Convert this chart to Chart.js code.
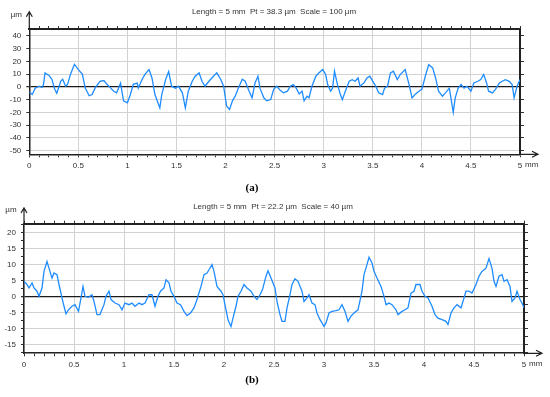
<!DOCTYPE html>
<html lang="en">
<head>
  <meta charset="UTF-8">
  <title>Profiles</title>
  <script src="https://cdn.jsdelivr.net/npm/chart.js@4"></script>
  <style>
    html, body { margin: 0; padding: 0; background: #fff; }
    #wrap { position: relative; width: 550px; height: 397px; }
    .box { position: absolute; left: 0; width: 550px; }
    #boxA { top: 0; height: 195px; }
    #boxB { top: 195px; height: 202px; }
  </style>
</head>
<body>
  <div id="wrap">
    <div class="box" id="boxA"><canvas id="chartA"></canvas></div>
    <div class="box" id="boxB"><canvas id="chartB"></canvas></div>
  </div>

  <script>
    // profile (a): position in mm, height in µm
    const xA = [0, 0.03, 0.06, 0.10, 0.13, 0.145, 0.16, 0.20, 0.23, 0.26, 0.28, 0.32, 0.34, 0.37, 0.39, 0.42, 0.46, 0.50, 0.54, 0.57,
      0.61, 0.64, 0.67, 0.72, 0.76, 0.79, 0.83, 0.86, 0.89, 0.93, 0.96, 1.00, 1.03, 1.06, 1.10, 1.11, 1.15, 1.18, 1.22, 1.25,
      1.28, 1.33, 1.35, 1.39, 1.42, 1.45, 1.49, 1.52, 1.56, 1.59, 1.62, 1.66, 1.69, 1.73, 1.76, 1.79, 1.83, 1.86, 1.91, 1.95,
      1.98, 2.01, 2.04, 2.07, 2.10, 2.13, 2.17, 2.20, 2.24, 2.27, 2.30, 2.33, 2.35, 2.39, 2.42, 2.46, 2.49, 2.52, 2.56, 2.59,
      2.63, 2.66, 2.69, 2.72, 2.75, 2.78, 2.80, 2.83, 2.85, 2.88, 2.92, 2.95, 2.99, 3.02, 3.04, 3.07, 3.09, 3.11, 3.14, 3.17,
      3.19, 3.22, 3.26, 3.29, 3.32, 3.35, 3.37, 3.41, 3.44, 3.47, 3.49, 3.53, 3.56, 3.60, 3.62, 3.65, 3.68, 3.71, 3.75, 3.78,
      3.83, 3.87, 3.90, 3.93, 3.97, 4.00, 4.04, 4.07, 4.11, 4.14, 4.17, 4.21, 4.24, 4.28, 4.32, 4.34, 4.37, 4.40, 4.43, 4.46,
      4.50, 4.53, 4.57, 4.60, 4.63, 4.66, 4.68, 4.72, 4.75, 4.79, 4.82, 4.85, 4.89, 4.92, 4.94, 4.97, 5.00]
    const yA = [-4, -6, -1, 0.5, -0.5, 2, 11, 9, 6, -2, -5, 4.4, 6, 0.5, 2, 10, 17.8, 13.6, 10, -1,
      -7, -6, -1, 4.4, 5, 2, -1, -3.4, -4.7, 3, -11, -12.5, -6, 2, 3, -1, 6, 10, 13.6, 7,
      -6, -16.5, -6, 6, 12, 0.5, -1, 0.5, -4.7, -16.5, -3.4, 4.4, 8.4, 11, 4.4, 0.5, 4.4, 7, 11, 6,
      0.5, -15, -17.7, -11, -7, -1, 6, 4.4, -3.4, -8.6, 3, 8.4, -1, -8.6, -11, -10, -2, 0.5, -2.9, -4.7,
      -3.4, 0.5, 1.8, -1, -5.5, -3.4, -11, -7.3, -8.6, 0.5, 8.4, 11, 13.6, 9.7, 1.8, -3.4, -1, 12.3, 1.8, -6,
      -10, -3.4, 4.4, 5.7, 4.4, 7, 0.5, 3.1, 7, 8.4, 5.7, 0.5, -4.7, -6, -1, 0.5, 11, 12.3, 5.7, 9.7,
      13.6, 1.8, -8.6, -6, -3.4, -2, 9.7, 17.5, 14.9, 7, -3.4, -7.3, -4.7, -1, -20, -8.6, -1, 1.8, -1, 0.5,
      -3.4, 3.1, 4.4, 5.7, 9.7, 3.1, -3.4, -4.7, -2, 3.1, 4.4, 5.7, 4.4, 1.8, -8.6, 0.5, 5.7]

    // profile (b)
    const xB = [0, 0.03, 0.05, 0.08, 0.10, 0.13, 0.15, 0.18, 0.20, 0.23, 0.25, 0.28, 0.30, 0.33, 0.35, 0.38, 0.40, 0.42, 0.445, 0.48,
      0.51, 0.545, 0.57, 0.59, 0.61, 0.645, 0.68, 0.70, 0.73, 0.76, 0.80, 0.82, 0.85, 0.87, 0.91, 0.95, 0.98, 1.01, 1.05, 1.08,
      1.11, 1.15, 1.18, 1.21, 1.25, 1.28, 1.31, 1.34, 1.365, 1.40, 1.42, 1.45, 1.47, 1.50, 1.53, 1.565, 1.60, 1.63, 1.665, 1.70,
      1.73, 1.77, 1.80, 1.83, 1.85, 1.88, 1.90, 1.93, 1.97, 1.99, 2.02, 2.04, 2.07, 2.09, 2.12, 2.14, 2.17, 2.20, 2.23, 2.27,
      2.30, 2.33, 2.36, 2.385, 2.42, 2.44, 2.47, 2.51, 2.53, 2.56, 2.58, 2.61, 2.63, 2.66, 2.68, 2.71, 2.74, 2.78, 2.80, 2.83,
      2.85, 2.88, 2.91, 2.93, 2.96, 2.98, 3.00, 3.02, 3.05, 3.08, 3.12, 3.15, 3.18, 3.21, 3.24, 3.27, 3.30, 3.34, 3.38, 3.40,
      3.43, 3.45, 3.48, 3.50, 3.53, 3.57, 3.60, 3.62, 3.65, 3.68, 3.72, 3.74, 3.78, 3.81, 3.84, 3.87, 3.90, 3.92, 3.96, 3.98,
      4.01, 4.04, 4.08, 4.11, 4.14, 4.18, 4.22, 4.24, 4.27, 4.30, 4.33, 4.37, 4.40, 4.42, 4.45, 4.48, 4.52, 4.55, 4.58, 4.62,
      4.65, 4.68, 4.70, 4.72, 4.75, 4.78, 4.80, 4.83, 4.86, 4.88, 4.91, 4.93, 4.96, 4.98, 5.00]
    const yB = [4.9, 3.9, 2.8, 4.4, 2.8, 1.8, 0.2, 2.8, 8, 11.1, 9, 5.9, 7.5, 7, 3.9, -0.3, -2.9, -5.3, -4, -2.9,
      -2.4, -4.5, -0.3, 3.3, 0.2, -0.1, 0.7, -1.4, -5.5, -5.5, -2.4, 0.2, 1.8, -0.8, -1.9, -2.4, -4, -1.9, -2.4, -1.9,
      -2.9, -1.9, -2.4, -1.9, 0.7, 0.7, -2.9, 0.2, 1.8, 2.8, 5.4, 4.4, 1.8, 0.2, -1.9, -2.4, -4.5, -5.8, -5, -3.4,
      -0.8, 3.3, 7, 7.5, 8.5, 10.1, 8, 3.3, 1.8, 0.7, -4, -7.1, -9.2, -6.6, -2.9, 0.2, 1.8, 3.9, 2.8, 1.8,
      0.2, -0.8, 0.7, 2.3, 6.5, 8.2, 5.9, 2.8, -1.4, -5.5, -7.6, -7.6, -3.4, 0.7, 3.9, 5.7, 4.9, 1.8, -1.4, -0.3,
      0.7, -1.9, -2.4, -5, -7.1, -8.1, -9.2, -8.1, -5, -4.5, -4.3, -4, -2.4, -4.5, -7.6, -6, -5, -4, 1.8, 7,
      10.1, 12.4, 10.6, 8, 5.9, 3.3, 0.2, -2.4, -1.9, -2.4, -4, -5.5, -4.5, -4, -3.4, 1.2, 1.8, 3.9, 3.9, 1.8,
      0.2, -0.3, -2.9, -5.5, -6.6, -7.1, -7.6, -8.6, -5, -3.4, -2.4, -3.4, -0.3, 1.8, 1.8, 1.2, 3.9, 6.5, 8, 9,
      12, 9, 4.9, 3.3, 6.5, 7, 4.9, 5.4, 3.3, -1.4, -0.3, 1.8, -0.8, -1.9, -3.4]

    const yTicksA = [-50, -40, -30, -20, -10, 0, 10, 20, 30, 40]
    const yTicksB = [-17.5, -15, -12.5, -10, -7.5, -5, -2.5, 0, 2.5, 5, 7.5, 10, 12.5, 15, 17.5, 20, 22.5]
    const xTicks = []
    for (let i = 0; i <= 50; i++) xTicks.push(i / 10)

    const font = { family: '"Liberation Sans", Arial, sans-serif', size: 8 }
    const ink = '#333'

    const decor = {
      id: 'decor',
      afterDraw(chart, args, o) {
        const { ctx, chartArea: a } = chart
        ctx.save()
        ctx.strokeStyle = '#222'
        ctx.lineWidth = 1.2
        const top = a.top - o.arrowUp
        ctx.beginPath()
        ctx.moveTo(a.left, a.top); ctx.lineTo(a.left, top)
        ctx.moveTo(a.left - 3, top + 5); ctx.lineTo(a.left, top); ctx.lineTo(a.left + 3, top + 5)
        const right = a.right + 18
        ctx.moveTo(a.right, a.bottom); ctx.lineTo(right, a.bottom)
        ctx.moveTo(right - 6, a.bottom - 3); ctx.lineTo(right, a.bottom); ctx.lineTo(right - 6, a.bottom + 3)
        ctx.stroke()

        ctx.fillStyle = ink
        ctx.font = '8px "Liberation Sans", Arial, sans-serif'
        ctx.textBaseline = 'middle'
        ctx.textAlign = 'center'
        ctx.fillText(o.title, o.titleX, a.top - 17)
        ctx.fillText('µm', a.left - 13, a.top - 14)
        ctx.textAlign = 'left'
        ctx.fillText('mm', a.right + 5, a.bottom + 10.5)

        ctx.fillStyle = '#000'
        ctx.font = 'bold 11px "Liberation Serif", "Times New Roman", serif'
        ctx.textAlign = 'center'
        ctx.fillText(o.tag, 252, o.tagY)
        ctx.restore()
      }
    }

    const isMajorX = v => Math.round(v * 10) % 5 === 0

    function profileChart(el, xs, ys, c) {
      return new Chart(el, {
        type: 'line',
        data: {
          datasets: [{
            data: xs.map((x, i) => ({ x, y: ys[i] })),
            borderColor: '#1e8cff',
            borderWidth: 1.3,
            pointRadius: 0,
            tension: 0
          }]
        },
        options: {
          responsive: true,
          maintainAspectRatio: false,
          animation: false,
          layout: { padding: 0 },
          plugins: {
            legend: { display: false },
            tooltip: { enabled: false },
            decor: c
          },
          scales: {
            x: {
              type: 'linear', min: 0, max: 5,
              afterBuildTicks: s => { s.ticks = xTicks.map(value => ({ value })) },
              afterFit: s => { s.height = c.bottomH },
              ticks: { autoSkip: false, maxRotation: 0, padding: 4, font, color: ink,
                callback: v => isMajorX(v) ? String(v) : '' },
              grid: { color: g => isMajorX(g.tick.value) ? '#d2d2d2' : 'rgba(0,0,0,0)',
                tickColor: '#333', tickLength: 3 },
              border: { color: '#222', width: 1.6 }
            },
            xTop: {
              type: 'linear', position: 'top', min: 0, max: 5,
              afterBuildTicks: s => { s.ticks = xTicks.map(value => ({ value })) },
              afterFit: s => { s.height = c.topH },
              ticks: { display: false },
              grid: { drawOnChartArea: false, tickColor: '#333', tickLength: 3 },
              border: { color: '#222', width: 2 }
            },
            y: {
              min: c.yMin, max: c.yMax,
              afterBuildTicks: s => { s.ticks = c.yTicks.map(value => ({ value })) },
              afterFit: s => { s.width = c.leftW },
              ticks: { autoSkip: false, padding: 5, font, color: ink,
                callback: v => v % c.yStep === 0 ? String(v) : '' },
              grid: {
                color: g => g.tick.value === 0 ? '#1a1a1a' : (g.tick.value % c.yStep === 0 ? '#d2d2d2' : 'rgba(0,0,0,0)'),
                lineWidth: g => g.tick.value === 0 ? 1.3 : 1,
                tickColor: '#333', tickLength: 3
              },
              border: { color: '#222', width: 1.5 }
            },
            yRight: {
              position: 'right', min: c.yMin, max: c.yMax,
              afterBuildTicks: s => { s.ticks = c.yTicks.map(value => ({ value })) },
              afterFit: s => { s.width = c.rightW },
              ticks: { display: false, autoSkip: false },
              grid: { drawOnChartArea: false, tickColor: '#333', tickLength: 4 },
              border: { color: '#222', width: 2 }
            }
          }
        },
        plugins: [decor]
      })
    }

    profileChart(document.getElementById('chartA'), xA, yA, {
      title: 'Length = 5 mm  Pt = 38.3 µm  Scale = 100 µm', titleX: 274,
      tag: '(a)', tagY: 188,
      yMin: -53, yMax: 45.5, yTicks: yTicksA, yStep: 10,
      leftW: 29.3, rightW: 30, topH: 29, bottomH: 40.7, arrowUp: 17.3
    })

    profileChart(document.getElementById('chartB'), xB, yB, {
      title: 'Length = 5 mm  Pt = 22.2 µm  Scale = 40 µm', titleX: 273,
      tag: '(b)', tagY: 185,
      yMin: -17.6, yMax: 22.9, yTicks: yTicksB, yStep: 5,
      leftW: 24, rightW: 26, topH: 28.7, bottomH: 43.7, arrowUp: 15.7
    })
  </script>
</body>
</html>
